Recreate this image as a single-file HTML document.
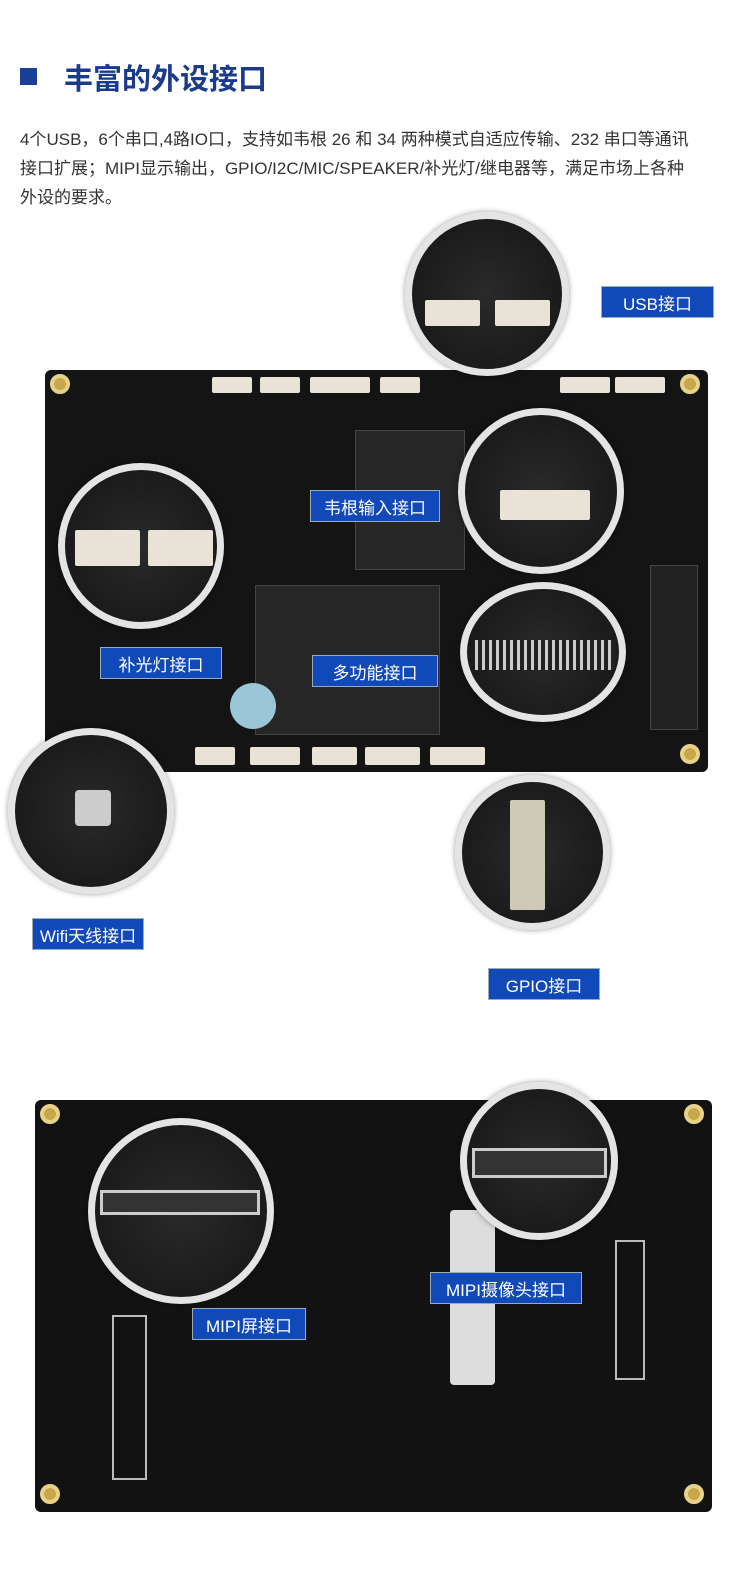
<!DOCTYPE html>
<html><head><meta charset="utf-8"><style>
*{margin:0;padding:0;box-sizing:border-box}
body{width:750px;height:1584px;background:#fff;position:relative;overflow:hidden;font-family:"Liberation Sans","Noto Sans CJK SC",sans-serif}
.a{position:absolute}
.lbl{position:absolute;background:#1249b8;color:#fff;font-size:17px;display:flex;align-items:center;justify-content:center;border:1px solid #9ab}
.board{position:absolute;background:#141414;border-radius:6px}
.circ{position:absolute;border-radius:50%;background:radial-gradient(circle at 50% 50%,#2a2a2a 0,#1b1b1b 70%);border:7px solid #e4e4e4;box-shadow:0 0 6px rgba(0,0,0,.4)}
.hole{position:absolute;width:20px;height:20px;border-radius:50%;background:#c9a64a;border:4px solid #e8d28a}
.conn{position:absolute;background:#e8e3d6;border-radius:2px}
.chip{position:absolute;background:#262626;border:1px solid #444}
</style></head><body>
<div class="a" style="left:20px;top:68px;width:17px;height:17px;background:#1a3f99"></div>
<div class="a" style="left:64px;top:56px;font-size:29px;font-weight:bold;color:#1a3a8c">丰富的外设接口</div>
<div class="a" style="left:20px;top:125px;width:730px;font-size:17px;line-height:29px;color:#333;white-space:nowrap">4个USB，6个串口,4路IO口，支持如韦根 26 和 34 两种模式自适应传输、232 串口等通讯<br>接口扩展；MIPI显示输出，GPIO/I2C/MIC/SPEAKER/补光灯/继电器等，满足市场上各种<br>外设的要求。</div>

<div class="board" style="left:45px;top:370px;width:663px;height:402px"></div>
<div class="hole" style="left:50px;top:374px"></div><div class="hole" style="left:680px;top:374px"></div>
<div class="hole" style="left:680px;top:744px"></div>
<div class="conn" style="left:212px;top:377px;width:40px;height:16px"></div>
<div class="conn" style="left:260px;top:377px;width:40px;height:16px"></div>
<div class="conn" style="left:310px;top:377px;width:60px;height:16px"></div>
<div class="conn" style="left:380px;top:377px;width:40px;height:16px"></div>
<div class="conn" style="left:560px;top:377px;width:50px;height:16px"></div>
<div class="conn" style="left:615px;top:377px;width:50px;height:16px"></div>
<div class="conn" style="left:195px;top:747px;width:40px;height:18px"></div>
<div class="conn" style="left:250px;top:747px;width:50px;height:18px"></div>
<div class="conn" style="left:312px;top:747px;width:45px;height:18px"></div>
<div class="conn" style="left:365px;top:747px;width:55px;height:18px"></div>
<div class="conn" style="left:430px;top:747px;width:55px;height:18px"></div>
<div class="chip" style="left:355px;top:430px;width:110px;height:140px"></div>
<div class="chip" style="left:255px;top:585px;width:185px;height:150px"></div>
<div class="a" style="left:230px;top:683px;width:46px;height:46px;border-radius:50%;background:#9bc6d8"></div>
<div class="chip" style="left:650px;top:565px;width:48px;height:165px;background:#222"></div>

<div class="circ" style="left:405px;top:212px;width:164px;height:164px"></div>
<div class="conn" style="left:425px;top:300px;width:55px;height:26px"></div>
<div class="conn" style="left:495px;top:300px;width:55px;height:26px"></div>
<div class="circ" style="left:58px;top:463px;width:166px;height:166px"></div>
<div class="conn" style="left:75px;top:530px;width:65px;height:36px"></div>
<div class="conn" style="left:148px;top:530px;width:65px;height:36px"></div>
<div class="circ" style="left:458px;top:408px;width:166px;height:166px"></div>
<div class="conn" style="left:500px;top:490px;width:90px;height:30px"></div>
<div class="circ" style="left:460px;top:582px;width:166px;height:140px"></div>
<div class="a" style="left:475px;top:640px;width:140px;height:30px;background:repeating-linear-gradient(90deg,#ccc 0 3px,#222 3px 7px)"></div>
<div class="circ" style="left:8px;top:728px;width:166px;height:166px"></div>
<div class="a" style="left:75px;top:790px;width:36px;height:36px;background:#ccc;border-radius:4px"></div>
<div class="circ" style="left:455px;top:775px;width:155px;height:155px"></div>
<div class="conn" style="left:510px;top:800px;width:35px;height:110px;background:#cfc9b8"></div>

<div class="lbl" style="left:601px;top:286px;width:113px;height:32px">USB接口</div>
<div class="lbl" style="left:310px;top:490px;width:130px;height:32px">韦根输入接口</div>
<div class="lbl" style="left:100px;top:647px;width:122px;height:32px">补光灯接口</div>
<div class="lbl" style="left:312px;top:655px;width:126px;height:32px">多功能接口</div>
<div class="lbl" style="left:32px;top:918px;width:112px;height:32px">Wifi天线接口</div>
<div class="lbl" style="left:488px;top:968px;width:112px;height:32px">GPIO接口</div>

<div class="board" style="left:35px;top:1100px;width:677px;height:412px;background:#121212"></div>
<div class="hole" style="left:40px;top:1104px"></div><div class="hole" style="left:684px;top:1104px"></div>
<div class="hole" style="left:40px;top:1484px"></div><div class="hole" style="left:684px;top:1484px"></div>
<div class="a" style="left:450px;top:1210px;width:45px;height:175px;background:#ddd;border-radius:4px"></div>
<div class="a" style="left:112px;top:1315px;width:35px;height:165px;border:2px solid #bbb"></div>
<div class="a" style="left:615px;top:1240px;width:30px;height:140px;border:2px solid #bbb"></div>
<div class="circ" style="left:88px;top:1118px;width:186px;height:186px"></div>
<div class="a" style="left:100px;top:1190px;width:160px;height:25px;border:3px solid #ccc;background:#333"></div>
<div class="circ" style="left:460px;top:1082px;width:158px;height:158px"></div>
<div class="a" style="left:472px;top:1148px;width:135px;height:30px;border:3px solid #ccc;background:#333"></div>
<div class="lbl" style="left:192px;top:1308px;width:114px;height:32px">MIPI屏接口</div>
<div class="lbl" style="left:430px;top:1272px;width:152px;height:32px">MIPI摄像头接口</div>
</body></html>
